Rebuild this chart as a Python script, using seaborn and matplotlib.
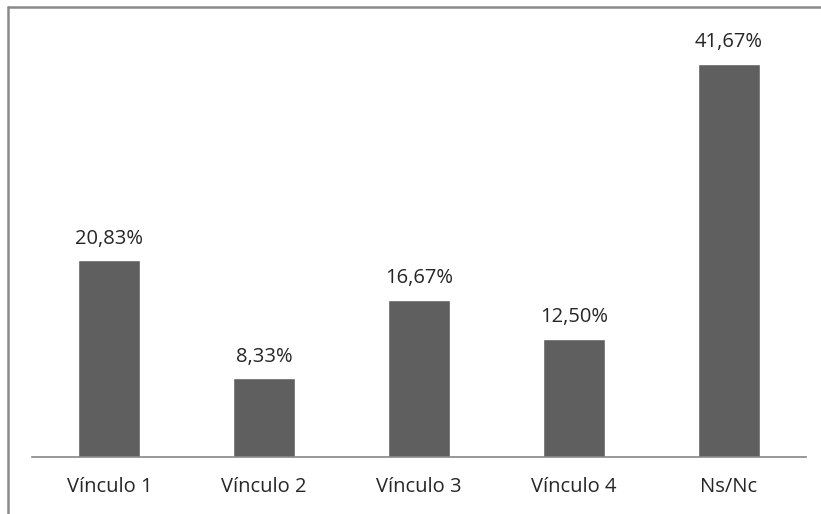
import pandas as pd
import matplotlib
matplotlib.use('Agg')
import matplotlib.pyplot as plt
from matplotlib.lines import Line2D
import seaborn as sns

categorias = ['Vínculo 1', 'Vínculo 2', 'Vínculo 3', 'Vínculo 4', 'Ns/Nc']
porcentajes = [20.83, 8.33, 16.67, 12.50, 41.67]
etiquetas = ['20,83%', '8,33%', '16,67%', '12,50%', '41,67%']

df = pd.DataFrame({'Categoria': categorias, 'Porcentaje': porcentajes})

sns.set_style('white')
plt.rcParams['font.family'] = ['Open Sans', 'DejaVu Sans']

fig = plt.figure(figsize=(8.21, 5.14), dpi=100)
ax = fig.add_axes([32 / 821, 57 / 514, 774 / 821, 451 / 514])

sns.barplot(data=df, x='Categoria', y='Porcentaje', color='#5f5f5f',
            saturation=1, width=0.4, ax=ax)

for i, (v, t) in enumerate(zip(porcentajes, etiquetas)):
    ax.annotate(t, (i, v), xytext=(0, 8.5), textcoords='offset points',
                ha='center', va='bottom', fontsize=14.5, color='#262626')

ax.set_xlim(-0.5, 4.5)
ax.set_ylim(0, 47.8)
ax.set_xlabel('')
ax.set_ylabel('')
ax.set_yticks([])
ax.tick_params(axis='x', length=0, pad=14.5, labelsize=14.5, labelcolor='#262626')
for s in ['top', 'right', 'left']:
    ax.spines[s].set_visible(False)
ax.spines['bottom'].set_color('#868686')
ax.spines['bottom'].set_linewidth(1.2)

# marco exterior (solo izquierda y arriba)
fig.add_artist(Line2D([7.5 / 821, 7.5 / 821], [0, 1 - 6.5 / 514],
                      transform=fig.transFigure, color='#8a8a8a', lw=1.8))
fig.add_artist(Line2D([7.5 / 821, 1], [1 - 6.5 / 514, 1 - 6.5 / 514],
                      transform=fig.transFigure, color='#8a8a8a', lw=1.8))

fig.savefig('out.png', dpi=100)
